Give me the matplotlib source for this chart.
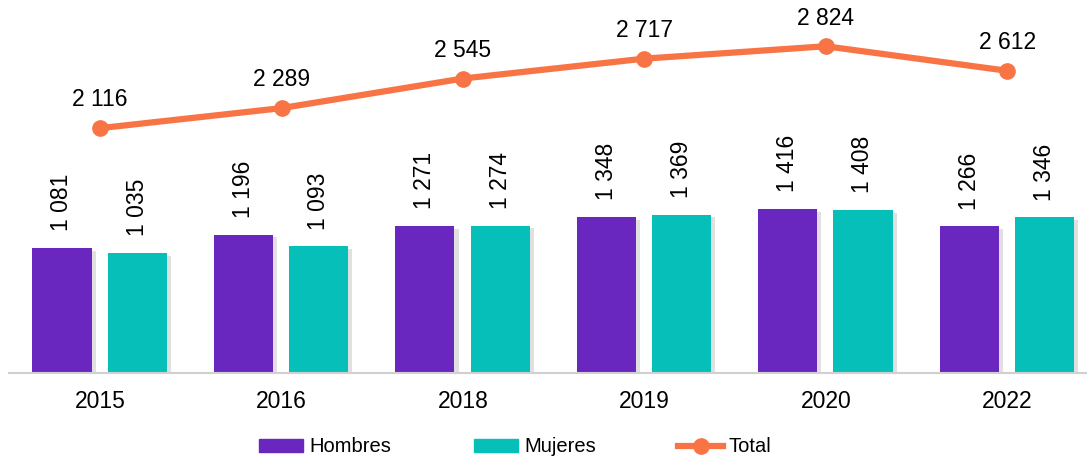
import matplotlib
matplotlib.use("Agg")
import matplotlib.pyplot as plt
import matplotlib.patheffects as pe
from matplotlib.patches import Patch
from matplotlib.lines import Line2D
import numpy as np

plt.rcParams['font.family'] = ['Liberation Sans', 'DejaVu Sans']

years = ['2015', '2016', '2018', '2019', '2020', '2022']
hombres = [1081, 1196, 1271, 1348, 1416, 1266]
mujeres = [1035, 1093, 1274, 1369, 1408, 1346]
total = [2116, 2289, 2545, 2717, 2824, 2612]

c_h = '#6A27C0'
c_m = '#07BFB9'
c_t = '#F97445'
fs = 16.5

def fmt(v):
    return f"{v:,}".replace(',', ' ')

fig = plt.figure(figsize=(10.87, 4.62), dpi=100)
ax = fig.add_axes([0.0083, 0.193, 0.9917, 0.807])

x = np.arange(len(years))
w = 0.326
shadow = [pe.SimplePatchShadow(offset=(3, -2), shadow_rgbFace='#999999', alpha=0.3), pe.Normal()]
b1 = ax.bar(x - 0.21, hombres, w, color=c_h, path_effects=shadow)
b2 = ax.bar(x + 0.205, mujeres, w, color=c_m, path_effects=shadow)

ax.plot(x, total, color=c_t, lw=4.5, marker='o', ms=11)

for bars, vals in ((b1, hombres), (b2, mujeres)):
    for r, v in zip(bars, vals):
        ax.annotate(fmt(v), (r.get_x() + r.get_width() / 2, r.get_height()),
                    xytext=(0, 12), textcoords='offset points', rotation=90,
                    ha='center', va='bottom', fontsize=fs)

for xi, v in zip(x, total):
    ax.annotate(fmt(v), (xi, v), xytext=(0, 12), textcoords='offset points',
                ha='center', va='bottom', fontsize=fs)

ax.set_xlim(-0.502, 5.44)
ax.set_ylim(0, 3224)
ax.set_xticks(x)
ax.set_xticklabels(years, fontsize=fs)
ax.tick_params(axis='x', length=0, pad=12)
ax.set_yticks([])
for s in ['top', 'right', 'left']:
    ax.spines[s].set_visible(False)
ax.spines['bottom'].set_color('#d0d0d0')
ax.spines['bottom'].set_linewidth(1.5)

handles = [Patch(color=c_h), Patch(color=c_m),
           Line2D([], [], color=c_t, lw=4.5, marker='o', ms=11)]
fig.legend(handles=handles, labels=['Hombres', 'Mujeres', 'Total'],
           loc='center', bbox_to_anchor=(0.474, 15 / 462), ncol=3, frameon=False,
           fontsize=14.5, handlelength=2.2, handleheight=0.6, handletextpad=0.3,
           columnspacing=4.1, borderpad=0)

fig.savefig('out.png', dpi=100)
